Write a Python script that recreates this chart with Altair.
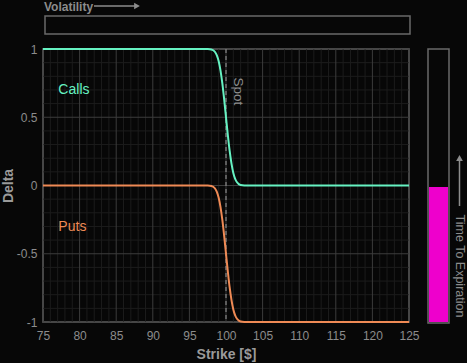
import altair as alt
import pandas as pd

# ---- data ----
strikes = [75, 96, 97, 97.5, 98, 98.25, 98.5, 98.75, 99, 99.25, 99.5, 99.75, 100,
           100.25, 100.5, 100.75, 101, 101.25, 101.5, 101.75, 102, 102.5, 103, 104, 125]
call_delta = [1.0, 1.0, 1.0, 0.9996, 0.9964, 0.9907, 0.978, 0.953, 0.910, 0.842, 0.748, 0.631, 0.5,
              0.370, 0.253, 0.160, 0.092, 0.049, 0.024, 0.0104, 0.0041, 0.0005, 0.0, 0.0, 0.0]
put_delta = [0.0, 0.0, 0.0, -0.0004, -0.0036, -0.0093, -0.022, -0.047, -0.090, -0.158, -0.252, -0.369, -0.5,
             -0.630, -0.747, -0.840, -0.908, -0.951, -0.976, -0.9896, -0.9959, -0.9995, -1.0, -1.0, -1.0]

x_major = [75, 80, 85, 90, 95, 100, 105, 110, 115, 120, 125]
y_major = [-1, -0.5, 0, 0.5, 1]
x_minor = [v for v in range(75, 126) if v % 5 != 0]
y_minor = [-0.9, -0.8, -0.7, -0.6, -0.4, -0.3, -0.2, -0.1, 0.1, 0.2, 0.3, 0.4, 0.6, 0.7, 0.8, 0.9]
spot = 100

CALL_C = "#66f2c2"
PUT_C = "#ef8a55"
GRAY = "#8c8c8c"
FONT = "Liberation Sans"

W, H = 366, 273
xs = alt.Scale(domain=[75, 125], nice=False, zero=False)
ys = alt.Scale(domain=[-1, 1], nice=False, zero=False)
xax = alt.Axis(values=x_major, title="Strike [$]", grid=False, domain=False, ticks=False,
               labelPadding=8, titlePadding=6, labelFlush=False, labelExpr="'' + datum.value")
yax = alt.Axis(values=y_major, title="Delta", grid=False, domain=False, ticks=False,
               labelPadding=6, titlePadding=1, labelFlush=False, labelExpr="'' + datum.value")

curves = pd.DataFrame({
    "strike": strikes * 2,
    "delta": call_delta + put_delta,
    "series": ["Calls"] * len(strikes) + ["Puts"] * len(strikes),
})

one = alt.Data(values=[{}])

minor_x = alt.Chart(pd.DataFrame({"v": x_minor})).mark_rule(color="#1c1c1c", strokeWidth=1).encode(
    x=alt.X("v:Q", scale=xs, axis=xax))
minor_y = alt.Chart(pd.DataFrame({"v": y_minor})).mark_rule(color="#1c1c1c", strokeWidth=1).encode(
    y=alt.Y("v:Q", scale=ys, axis=yax))
major_x = alt.Chart(pd.DataFrame({"v": x_major})).mark_rule(color="#3c3c3c", strokeWidth=1).encode(
    x=alt.X("v:Q", scale=xs, axis=xax))
major_y = alt.Chart(pd.DataFrame({"v": y_major})).mark_rule(color="#3c3c3c", strokeWidth=1).encode(
    y=alt.Y("v:Q", scale=ys, axis=yax))

spot_line = alt.Chart(pd.DataFrame({"v": [spot]})).mark_rule(
    color="#9a9a9a", strokeDash=[4, 3], strokeWidth=1).encode(x=alt.X("v:Q", scale=xs, axis=xax))

lines = alt.Chart(curves).mark_line(strokeWidth=2, interpolate="monotone").encode(
    x=alt.X("strike:Q", scale=xs, axis=xax),
    y=alt.Y("delta:Q", scale=ys, axis=yax),
    color=alt.Color("series:N", scale=alt.Scale(domain=["Calls", "Puts"], range=[CALL_C, PUT_C]), legend=None),
)

labels = alt.Chart(pd.DataFrame({"x": [77.1, 77.1], "y": [0.70, -0.306], "t": ["Calls", "Puts"]})).mark_text(
    align="left", baseline="middle", fontSize=14, font=FONT).encode(
    x=alt.X("x:Q", scale=xs, axis=xax), y=alt.Y("y:Q", scale=ys, axis=yax), text="t:N",
    color=alt.Color("t:N", scale=alt.Scale(domain=["Calls", "Puts"], range=[CALL_C, PUT_C]), legend=None))

spot_text = alt.Chart(pd.DataFrame({"x": [101.6], "y": [0.69], "t": ["Spot"]})).mark_text(
    align="center", baseline="middle", angle=90, fontSize=13.5, font=FONT, color=GRAY).encode(
    x=alt.X("x:Q", scale=xs, axis=xax), y=alt.Y("y:Q", scale=ys, axis=yax), text="t:N")

# ---- controls (decoration outside the plot) ----
vol_box = alt.Chart(one).mark_rect(fill="#070707", stroke="#6a6a6a", strokeWidth=1.5).encode(
    x=alt.value(2), x2=alt.value(367), y=alt.value(-33), y2=alt.value(-15))
vol_text = alt.Chart(one).mark_text(align="left", baseline="middle", fontSize=12, fontWeight="bold",
                                    font=FONT, color=GRAY, text="Volatility").encode(
    x=alt.value(1), y=alt.value(-42))
vol_arrow = alt.Chart(one).mark_rule(color=GRAY, strokeWidth=1.5).encode(
    x=alt.value(51), x2=alt.value(93), y=alt.value(-43))
vol_head = alt.Chart(one).mark_point(shape="triangle-right", filled=True, size=45, color=GRAY, opacity=1).encode(
    x=alt.value(94), y=alt.value(-43))

tte_box = alt.Chart(one).mark_rect(fill="#070707", stroke="#6a6a6a", strokeWidth=1.5).encode(
    x=alt.value(385), x2=alt.value(406), y=alt.value(0), y2=alt.value(274))
tte_fill = alt.Chart(one).mark_rect(fill="#ee00cc").encode(
    x=alt.value(386), x2=alt.value(405), y=alt.value(138), y2=alt.value(273))
tte_arrow = alt.Chart(one).mark_rule(color=GRAY, strokeWidth=1.5).encode(
    x=alt.value(416.5), y=alt.value(110), y2=alt.value(157))
tte_head = alt.Chart(one).mark_point(shape="triangle-up", filled=True, size=45, color=GRAY, opacity=1).encode(
    x=alt.value(416.5), y=alt.value(109))
tte_text = alt.Chart(one).mark_text(align="center", baseline="middle", angle=90, fontSize=12.5,
                                    font=FONT, color=GRAY, text="Time To Expiration").encode(
    x=alt.value(416.5), y=alt.value(217))

chart = alt.layer(
    minor_x, minor_y, major_x, major_y, spot_line, lines, labels, spot_text,
    vol_box, vol_text, vol_arrow, vol_head, tte_box, tte_fill, tte_arrow, tte_head, tte_text,
).properties(
    width=W, height=H,
    autosize=alt.AutoSizeParams(type="none"),
    padding={"left": 43, "top": 49, "right": 58, "bottom": 41},
    background="#070707",
).configure_view(
    stroke="#6a6a6a", strokeWidth=1.5,
).configure_axis(
    labelColor=GRAY, titleColor="#9a9a9a", labelFont=FONT, titleFont=FONT,
    labelFontSize=12, titleFontSize=14, titleFontWeight="bold",
)

chart.save("out.html", embed_options={"renderer": "svg", "actions": False})
